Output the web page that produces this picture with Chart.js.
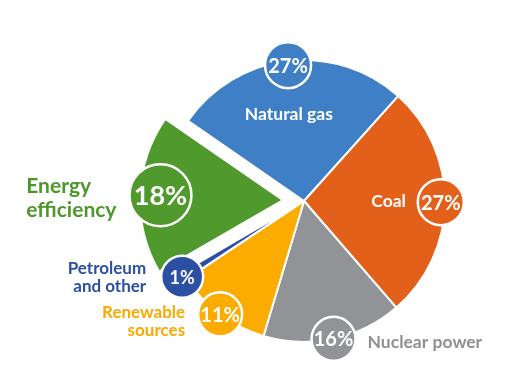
<!DOCTYPE html>
<html>
<head>
<meta charset="utf-8">
<script src="https://cdn.jsdelivr.net/npm/chart.js@4.4.1/dist/chart.umd.min.js"></script>
<style>
  html, body { margin: 0; padding: 0; background: #fff; }
  #wrap { width: 507px; height: 380px; }
</style>
</head>
<body>
<div id="wrap"><canvas id="energyChart"></canvas></div>
<script>
// Data
const sources = ['Natural gas', 'Coal', 'Nuclear power', 'Renewable sources', 'Petroleum and other', 'Energy efficiency'];
const shares = [27, 27, 16, 11, 1, 18];
const labelLines = [['Natural gas'], ['Coal'], ['Nuclear power'], ['Renewable', 'sources'], ['Petroleum', 'and other'], ['Energy', 'efficiency']];

// Styles
const sliceColors = ['#3E7FC5', '#E3601B', '#929397', '#FCAC00', '#2B4FA3', '#4F992D'];
const textColors = ['#ffffff', '#ffffff', '#8E8F93', '#F9A900', '#2C4FA0', '#4C982A'];
const sliceOffsets = [0, 0, 0, 0, 10, 84];
const FONT = 'Lato, "Open Sans", sans-serif';

// where each bubble / label goes
const bubbleStyle = [
    { r: 23, dist: 0.97, font: 20 },
    { r: 23, dist: 0.97, font: 20 },
    { r: 22, dist: 1.0, font: 20 },
    { r: 22, dist: 1.0, font: 20 },
    { r: 21, dist: 1.0, font: 18 },
    { r: 31, dist: 0.87, font: 27 }
];
const labelStyle = [
    { place: 'inside', dist: 0.62, font: 17.5, lh: 20, dx: -5, dy: 0 },
    { place: 'inside', dist: 0.60, font: 17.5, lh: 20, dx: 0, dy: 0 },
    { place: 'right', gap: 12, font: 17.5, lh: 20, dy: 3 },
    { place: 'left', align: 'right', gap: 13, font: 17, lh: 18, dy: 7 },
    { place: 'left', align: 'right', gap: 15, font: 17, lh: 18, dy: 1 },
    { place: 'left', align: 'left', gap: 13, font: 21, lh: 24, dy: 3 }
];

const bubblePlugin = {
    id: 'bubbles',
    afterDatasetsDraw(chart) {
        const ctx = chart.ctx;
        const meta = chart.getDatasetMeta(0);
        ctx.save();
        meta.data.forEach((arc, i) => {
            const mid = (arc.startAngle + arc.endAngle) / 2;
            const shift = sliceOffsets[i] / 4;
            const ox = arc.x + Math.cos(mid) * shift;
            const oy = arc.y + Math.sin(mid) * shift;
            const b = bubbleStyle[i];
            const bx = ox + Math.cos(mid) * arc.outerRadius * b.dist;
            const by = oy + Math.sin(mid) * arc.outerRadius * b.dist;

            // bubble
            ctx.beginPath();
            ctx.arc(bx, by, b.r, 0, Math.PI * 2);
            ctx.fillStyle = sliceColors[i];
            ctx.fill();
            ctx.lineWidth = 2.5;
            ctx.strokeStyle = '#ffffff';
            ctx.stroke();
            ctx.fillStyle = '#ffffff';
            ctx.font = `bold ${b.font}px ${FONT}`;
            ctx.textAlign = 'center';
            ctx.textBaseline = 'middle';
            ctx.fillText(`${shares[i]}%`, bx, by + 1);

            // category label
            const l = labelStyle[i];
            const lines = labelLines[i];
            ctx.font = `bold ${l.font}px ${FONT}`;
            ctx.fillStyle = textColors[i];
            const top = (l.place === 'inside'
                ? oy + Math.sin(mid) * arc.outerRadius * l.dist
                : by + l.dy) - (lines.length - 1) * l.lh / 2;
            let x, align;
            if (l.place === 'inside') {
                x = ox + Math.cos(mid) * arc.outerRadius * l.dist + l.dx;
                align = 'center';
            } else if (l.place === 'right') {
                x = bx + b.r + l.gap;
                align = 'left';
            } else {
                const edge = bx - b.r - l.gap;
                if (l.align === 'left') {
                    const maxW = Math.max(...lines.map(t => ctx.measureText(t).width));
                    x = edge - maxW;
                    align = 'left';
                } else {
                    x = edge;
                    align = 'right';
                }
            }
            ctx.textAlign = align;
            lines.forEach((t, k) => ctx.fillText(t, x, top + k * l.lh));
        });
        ctx.restore();
    }
};

const ctx = document.getElementById('energyChart').getContext('2d');
const energyChart = new Chart(ctx, {
    type: 'pie',
    data: {
        labels: sources,
        datasets: [{
            data: shares,
            backgroundColor: sliceColors,
            borderColor: '#ffffff',
            borderWidth: 2,
            offset: sliceOffsets,
            hoverOffset: 0
        }]
    },
    options: {
        responsive: true,
        maintainAspectRatio: false,
        animation: false,
        rotation: -55.3,
        radius: 141,
        layout: {
            padding: { left: 101, top: 22, right: 0, bottom: 0 }
        },
        plugins: {
            legend: { display: false },
            tooltip: { enabled: false }
        }
    },
    plugins: [bubblePlugin]
});
</script>
</body>
</html>
